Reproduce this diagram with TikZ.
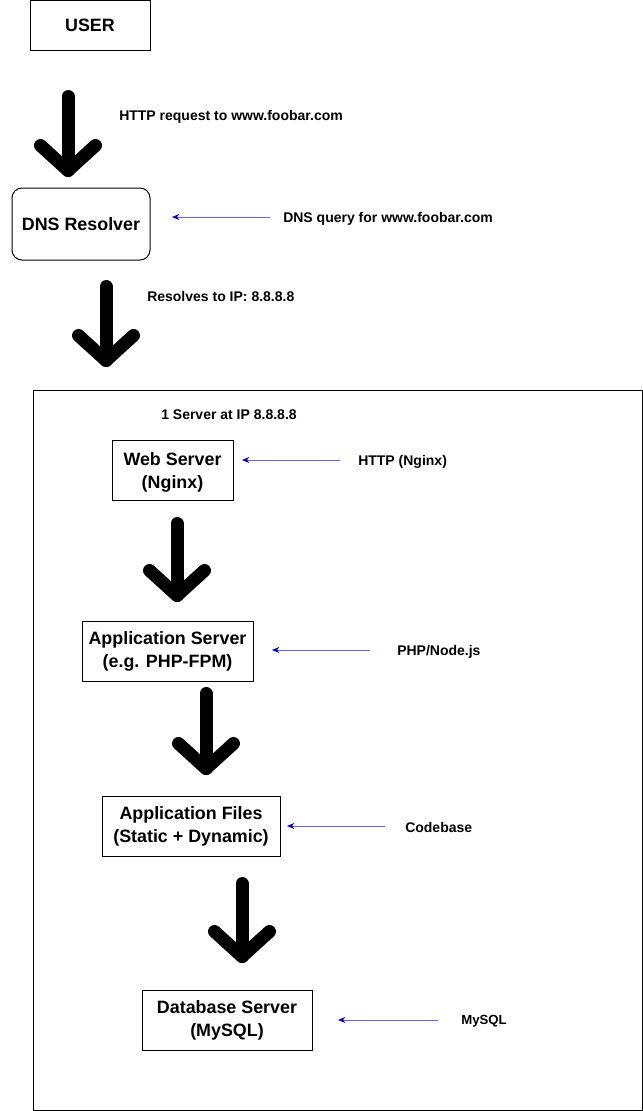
\documentclass[tikz,border=0pt]{standalone}
\usepackage{fontspec}
\setmainfont{Liberation Sans}
\usetikzlibrary{arrows.meta,calc}
\definecolor{qblue}{RGB}{0,0,204}
\definecolor{qline}{RGB}{100,100,215}
\begin{document}
\begin{tikzpicture}[x=0.75pt,y=-0.75pt,
  box/.style={draw=black,line width=0.75pt,inner sep=0pt,align=center,font=\fontsize{13.4}{17.25}\selectfont\bfseries},
  lbl/.style={anchor=west,inner sep=0pt,font=\fontsize{10.5}{12}\selectfont\bfseries},
  bigarr/.style={line width=9.75pt,line cap=round,line join=round,black},
  qarr/.style={qline,line width=0.75pt,-{Stealth[length=5.5pt,width=4.5pt,color=qblue]}}]
\useasboundingbox (0,0) rectangle (643,1111);
% container
\node[draw=black,line width=0.75pt,minimum width=609*0.75pt,minimum height=720*0.75pt,inner sep=0pt] (srv) at (337.5,750) {};
% boxes
\node[box, minimum width=120*0.75pt, minimum height=50*0.75pt] (user) at (90,25) {USER};
\node[box, rounded corners=7.5pt, minimum width=138*0.75pt, minimum height=72*0.75pt] (dns) at (81,224) {DNS Resolver};
\node[box, minimum width=121*0.75pt, minimum height=60*0.75pt, text depth=0pt] (web) at (172.5,470.5) {Web Server\\(Nginx)};
\node[box, minimum width=171*0.75pt, minimum height=60*0.75pt] (app) at (167.5,651.5) {Application Server\\(e.g. PHP-FPM)};
\node[box, minimum width=178*0.75pt, minimum height=60*0.75pt] (files) at (191,826.5) {Application Files\\(Static + Dynamic)};
\node[box, minimum width=170*0.75pt, minimum height=60*0.75pt] (db) at (227,1020.5) {Database Server\\(MySQL)};
% labels
\node[lbl] (l1) at (119,116.5) {HTTP request to www.foobar.com};
\node[lbl] (l2) at (283,218.5) {DNS query for www.foobar.com};
\node[lbl] (l3) at (147,296.5) {Resolves to IP: 8.8.8.8};
\node[lbl] (l4) at (161,414.5) {1 Server at IP 8.8.8.8};
\node[lbl] (l5) at (358,461.5) {HTTP (Nginx)};
\node[lbl] (l6) at (397,651.5) {PHP/Node.js};
\node[lbl] (l7) at (405,827.5) {Codebase};
\node[lbl,font=\fontsize{9.9}{11}\selectfont\bfseries] (l8) at (461,1021.5) {MySQL};
% blue arrows
\coordinate (q1s) at (270,217); \coordinate (q1e) at (172,217);
\coordinate (q2s) at (340,460); \coordinate (q2e) at (242,460);
\coordinate (q3s) at (370,650); \coordinate (q3e) at (272,650);
\coordinate (q4s) at (385,826); \coordinate (q4e) at (287,826);
\coordinate (q5s) at (438,1020); \coordinate (q5e) at (338,1020);
\foreach \i in {1,...,5} {\draw[qarr] (q\i s) -- (q\i e);}
% big arrows: top-of-shaft and tip
\coordinate (b1s) at (68,96.5);  \coordinate (b1t) at (68,170.5);
\coordinate (b2s) at (106,286.5); \coordinate (b2t) at (106,360.5);
\coordinate (b3s) at (177,523.5); \coordinate (b3t) at (177,595.5);
\coordinate (b4s) at (206,693.5); \coordinate (b4t) at (206,768.5);
\coordinate (b5s) at (242,883.5); \coordinate (b5t) at (242,956.5);
\foreach \i in {1,...,5} {
  \draw[bigarr] (b\i s) -- (b\i t);
  \draw[bigarr] ($(b\i t)+(-27.5,-25)$) -- (b\i t) -- ($(b\i t)+(27.5,-25)$);
}
\end{tikzpicture}
\end{document}
